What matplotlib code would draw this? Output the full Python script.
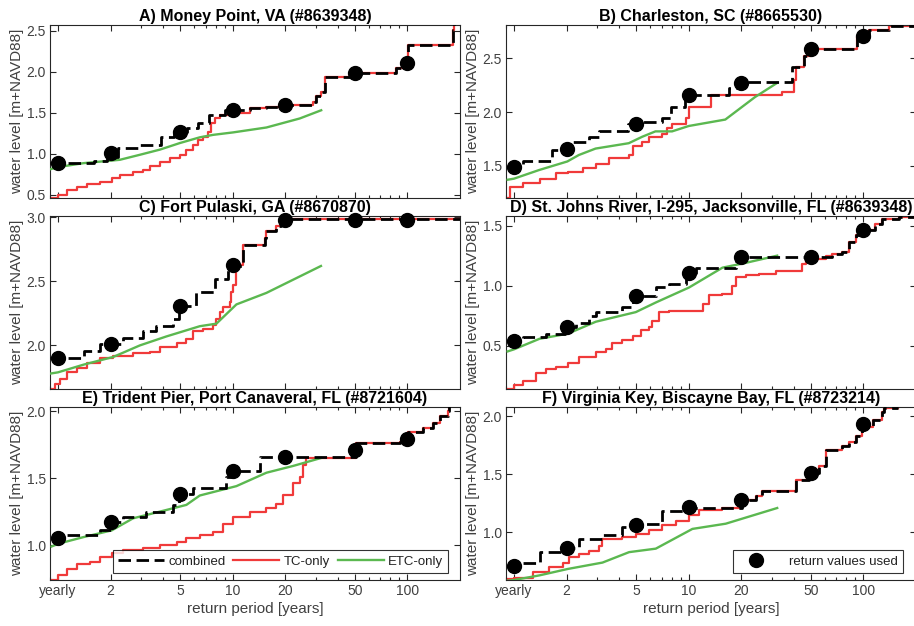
import matplotlib
matplotlib.use("Agg")
import matplotlib.pyplot as plt
from matplotlib.ticker import FixedLocator, NullFormatter, LogLocator

plt.rcParams['font.family'] = ['Liberation Sans', 'DejaVu Sans']

# ---------------- data ----------------
titles = ["A) Money Point, VA (#8639348)",
          "B) Charleston, SC (#8665530)",
          "C) Fort Pulaski, GA (#8670870)",
          "D) St. Johns River, I-295, Jacksonville, FL (#8639348)",
          "E) Trident Pier, Port Canaveral, FL (#8721604)",
          "F) Virginia Key, Biscayne Bay, FL (#8723214)"]

rp_ticks = [1, 2, 5, 10, 20, 50, 100]
rp_labels = ["yearly", "2", "5", "10", "20", "50", "100"]

# A
tc_A_x = [0.90, 1.0, 1.12, 1.28, 1.46, 1.74, 2.03, 2.26, 2.69, 3.07, 3.36, 3.83, 4.36, 4.98, 5.43, 5.93, 6.34, 6.77,
          7.23, 7.55, 7.89, 8.43, 9.62, 10.5, 12.5, 15.6, 20.3, 28.8, 30.1, 32.1, 33.6, 48.8, 86.4, 101, 182, 186, 200]
tc_A_y = [0.46, 0.50, 0.56, 0.60, 0.63, 0.66, 0.70, 0.74, 0.78, 0.80, 0.845, 0.905, 0.945, 0.985, 1.05, 1.11, 1.17, 1.21,
          1.27, 1.37, 1.43, 1.47, 1.49, 1.50, 1.555, 1.567, 1.595, 1.636, 1.70, 1.757, 1.94, 1.98, 2.04, 2.32, 2.51, 2.60, 2.60]
cb_A_x = [0.90, 1.6, 1.9, 2.2, 2.9, 3.9, 4.6, 5.5, 6.3, 7.3, 9.0, 12.5, 15.6, 20.3, 28.8, 30.1, 32.1, 33.6, 48.8, 86.4,
          101, 182, 186, 200]
cb_A_y = [0.89, 0.91, 0.96, 1.07, 1.11, 1.21, 1.26, 1.31, 1.37, 1.47, 1.53, 1.555, 1.567, 1.595, 1.636, 1.70, 1.757,
          1.94, 1.98, 2.04, 2.32, 2.51, 2.60, 2.60]
etc_A_x = [0.90, 1.0, 1.40, 2.26, 2.94, 3.83, 4.98, 6.48, 7.72, 10.05, 15.6, 24.2, 32.1]
etc_A_y = [0.81, 0.837, 0.885, 0.926, 0.987, 1.05, 1.13, 1.20, 1.23, 1.26, 1.32, 1.43, 1.53]
rv_A = [0.885, 1.007, 1.263, 1.534, 1.60, 1.98, 2.11]

# B
tc_B_x = [0.92, 0.95, 1.12, 1.40, 1.74, 2.03, 2.47, 2.94, 3.50, 4.56, 4.77, 5.43, 5.93, 7.07, 7.55, 8.07, 9.62, 10.05,
          13.4, 34.3, 40.0, 40.9, 45.6, 49.8, 92.3, 108, 140, 200]
tc_B_y = [1.20, 1.30, 1.335, 1.38, 1.43, 1.44, 1.475, 1.52, 1.57, 1.60, 1.68, 1.72, 1.77, 1.80, 1.85, 1.89, 1.94, 2.05,
          2.16, 2.19, 2.30, 2.42, 2.52, 2.59, 2.70, 2.76, 2.80, 2.80]
cb_B_x = [0.92, 1.12, 1.66, 2.16, 2.69, 3.07, 4.5, 5.43, 7.07, 7.89, 9.5, 17.0, 19.5, 39.2, 45.6, 49.8, 92.3, 108, 140, 200]
cb_B_y = [1.49, 1.54, 1.646, 1.72, 1.77, 1.82, 1.89, 1.91, 1.94, 2.05, 2.16, 2.22, 2.28, 2.42, 2.52, 2.59, 2.70, 2.76,
          2.80, 2.80]
etc_B_x = [0.92, 1.0, 1.39, 2.02, 2.35, 2.93, 4.54, 5.42, 6.45, 8.03, 10.0, 16.2, 24.0, 32.0]
etc_B_y = [1.37, 1.38, 1.46, 1.54, 1.60, 1.66, 1.71, 1.77, 1.82, 1.82, 1.87, 1.93, 2.14, 2.27]
rv_B = [1.49, 1.66, 1.89, 2.16, 2.27, 2.59, 2.71]

# C
tc_C_x = [0.90, 0.96, 1.03, 1.12, 1.28, 1.46, 1.74, 2.07, 2.69, 3.36, 3.83, 4.77, 5.43, 5.93, 6.77, 7.72, 8.07, 8.43,
          8.81, 9.62, 9.83, 10.05, 10.5, 10.7, 11.5, 15.3, 15.6, 17.8, 19.0, 200]
tc_C_y = [1.66, 1.70, 1.74, 1.79, 1.82, 1.86, 1.90, 1.92, 1.94, 1.95, 1.99, 2.02, 2.05, 2.11, 2.13, 2.16, 2.21, 2.26,
          2.30, 2.34, 2.42, 2.47, 2.60, 2.63, 2.78, 2.84, 2.89, 2.93, 2.985, 2.985]
cb_C_x = [0.90, 1.40, 1.74, 2.36, 3.07, 3.66, 4.56, 4.9, 6.2, 7.9, 9.4, 11.5, 15.3, 15.6, 17.8, 19.0, 200]
cb_C_y = [1.90, 1.96, 2.015, 2.055, 2.11, 2.15, 2.21, 2.31, 2.42, 2.52, 2.62, 2.78, 2.84, 2.89, 2.93, 2.985, 2.985]
etc_C_x = [0.90, 1.0, 1.40, 2.07, 2.94, 4.17, 6.48, 8.07, 10.5, 15.6, 32.0]
etc_C_y = [1.78, 1.79, 1.85, 1.91, 2.0, 2.07, 2.15, 2.17, 2.32, 2.41, 2.62]
rv_C = [1.90, 2.01, 2.31, 2.63, 2.98, 2.98, 2.98]

# D
tc_D_x = [0.92, 1.0, 1.12, 1.34, 1.52, 1.74, 2.03, 2.36, 2.94, 3.36, 3.66, 4.17, 4.77, 5.32, 5.93, 6.2, 6.77, 7.72,
          12.0, 13.1, 15.6, 17.8, 18.6, 21.2, 25.2, 31.5, 44.7, 46.7, 60.7, 66.3, 75.6, 82.7, 90.3, 103, 117, 128,
          160, 195, 200]
tc_D_y = [0.143, 0.17, 0.21, 0.27, 0.31, 0.32, 0.36, 0.41, 0.45, 0.475, 0.52, 0.545, 0.585, 0.63, 0.655, 0.71, 0.78,
          0.79, 0.85, 0.92, 0.93, 1.0, 1.07, 1.085, 1.10, 1.125, 1.18, 1.22, 1.25, 1.265, 1.28, 1.36, 1.42, 1.46, 1.51,
          1.555, 1.57, 1.58, 1.58]
cb_D_x = [0.92, 1.12, 1.52, 1.95, 2.26, 2.69, 2.94, 4.17, 4.8, 6.48, 7.72, 9.6, 11.0, 18.6, 20.0, 66.3, 75.6, 82.7,
          90.3, 103, 117, 128, 160, 195, 200]
cb_D_y = [0.536, 0.57, 0.60, 0.655, 0.69, 0.75, 0.78, 0.82, 0.918, 0.99, 1.01, 1.104, 1.145, 1.195, 1.24, 1.265, 1.28,
          1.36, 1.42, 1.46, 1.51, 1.555, 1.57, 1.58, 1.58]
etc_D_x = [0.92, 1.0, 1.40, 2.03, 2.94, 4.98, 6.48, 10.05, 15.6, 21.2, 32.1]
etc_D_y = [0.453, 0.47, 0.558, 0.60, 0.70, 0.78, 0.86, 0.985, 1.15, 1.19, 1.25]
rv_D = [0.536, 0.655, 0.918, 1.104, 1.24, 1.24, 1.46]

# E
tc_E_x = [0.92, 1.0, 1.12, 1.28, 1.52, 1.74, 2.03, 2.36, 3.07, 3.83, 4.77, 5.43, 6.48, 7.72, 8.81, 10.05, 12.5, 15.6,
          17.8, 19.4, 22.1, 24.2, 25.2, 26.4, 50.6, 90.3, 101, 123, 140, 153, 170, 174, 200]
tc_E_y = [0.74, 0.775, 0.825, 0.86, 0.875, 0.91, 0.94, 0.96, 0.975, 1.0, 1.025, 1.05, 1.075, 1.10, 1.16, 1.21, 1.25,
          1.275, 1.31, 1.375, 1.46, 1.51, 1.60, 1.65, 1.76, 1.77, 1.84, 1.875, 1.91, 1.96, 2.0, 2.05, 2.05]
cb_E_x = [0.92, 1.03, 1.74, 2.0, 2.36, 3.21, 4.56, 4.9, 5.93, 9.2, 10.05, 14.3, 50.6, 90.3, 101, 123, 140, 153, 170,
          174, 200]
cb_E_y = [1.05, 1.075, 1.11, 1.17, 1.21, 1.25, 1.30, 1.38, 1.425, 1.51, 1.55, 1.655, 1.76, 1.77, 1.84, 1.875, 1.91,
          1.96, 2.0, 2.05, 2.05]
etc_E_x = [0.92, 1.0, 1.40, 2.03, 2.69, 3.83, 5.43, 6.48, 10.5, 15.6, 22.1, 32.1]
etc_E_y = [0.99, 1.01, 1.06, 1.11, 1.20, 1.25, 1.30, 1.37, 1.44, 1.54, 1.59, 1.65]
rv_E = [1.05, 1.17, 1.38, 1.55, 1.655, 1.71, 1.79]

# F
tc_F_x = [0.92, 1.0, 1.28, 1.59, 1.90, 2.07, 2.36, 2.69, 3.07, 3.21, 4.17, 4.98, 5.93, 7.07, 8.43, 10.05, 11.5, 15.6,
          20.3, 24.2, 26.4, 40.9, 48.8, 55.6, 60.7, 75.6, 82.7, 90.3, 98.6, 113, 128, 131, 157]
tc_F_y = [0.60, 0.61, 0.656, 0.70, 0.74, 0.786, 0.815, 0.844, 0.887, 0.945, 0.96, 0.99, 1.02, 1.06, 1.10, 1.15, 1.19,
          1.21, 1.28, 1.31, 1.355, 1.45, 1.51, 1.57, 1.71, 1.74, 1.78, 1.83, 1.91, 1.97, 2.04, 2.07, 2.07]
cb_F_x = [0.92, 1.07, 1.40, 1.95, 2.36, 3.21, 4.17, 5.43, 7.07, 9.6, 20.3, 24.2, 26.4, 40.9, 48.8, 55.6, 60.7, 75.6,
          82.7, 90.3, 98.6, 113, 128, 131, 157]
cb_F_y = [0.71, 0.74, 0.83, 0.867, 0.945, 0.975, 1.05, 1.075, 1.18, 1.21, 1.28, 1.31, 1.355, 1.45, 1.51, 1.57, 1.71,
          1.74, 1.78, 1.83, 1.91, 1.97, 2.04, 2.07, 2.07]
etc_F_x = [0.92, 1.0, 1.40, 2.03, 3.21, 4.56, 6.48, 10.5, 16.3, 32.1]
etc_F_y = [0.584, 0.59, 0.63, 0.685, 0.74, 0.83, 0.86, 1.03, 1.075, 1.21]
rv_F = [0.71, 0.867, 1.06, 1.22, 1.28, 1.51, 1.93]

ylims = [(0.46, 2.57), (1.20, 2.81), (1.66, 3.01), (0.14, 1.58), (0.74, 2.03), (0.59, 2.08)]
yticks = [[0.5, 1.0, 1.5, 2.0, 2.5], [1.5, 2.0, 2.5], [2.0, 2.5, 3.0],
          [0.5, 1.0, 1.5], [1.0, 1.5, 2.0], [1.0, 1.5, 2.0]]

panels = [
    (tc_A_x, tc_A_y, cb_A_x, cb_A_y, etc_A_x, etc_A_y, rv_A),
    (tc_B_x, tc_B_y, cb_B_x, cb_B_y, etc_B_x, etc_B_y, rv_B),
    (tc_C_x, tc_C_y, cb_C_x, cb_C_y, etc_C_x, etc_C_y, rv_C),
    (tc_D_x, tc_D_y, cb_D_x, cb_D_y, etc_D_x, etc_D_y, rv_D),
    (tc_E_x, tc_E_y, cb_E_x, cb_E_y, etc_E_x, etc_E_y, rv_E),
    (tc_F_x, tc_F_y, cb_F_x, cb_F_y, etc_F_x, etc_F_y, rv_F),
]

# ---------------- figure ----------------
W, H = 914, 626
fig = plt.figure(figsize=(W / 100, H / 100), dpi=100)

col_x = [50, 506]
row_top = [25, 216, 407]
ax_w, ax_h = 410, 173

RED = '#F03A3A'
GREEN = '#5BB850'
AXC = '#262626'
TXT = '#404040'

axes = []
for i, (tcx, tcy, cbx, cby, ex, ey, rv) in enumerate(panels):
    r, c = divmod(i, 2)
    left = col_x[c] / W
    bottom = 1 - (row_top[r] + ax_h) / H
    ax = fig.add_axes([left, bottom, ax_w / W, ax_h / H])
    axes.append(ax)
    ax.set_xscale('log')

    l_tc, = ax.plot(tcx, tcy, color=RED, lw=1.6, drawstyle='steps-post', zorder=2)
    l_etc, = ax.plot(ex, ey, color=GREEN, lw=1.7, zorder=3)
    l_cb, = ax.plot(cbx, cby, color='black', lw=2.0, dashes=(4.5, 2.0), drawstyle='steps-post', zorder=4)
    l_rv, = ax.plot(rp_ticks, rv, 'o', color='black', ms=10, zorder=5, clip_on=False)

    ax.set_xlim(0.9, 200)
    ax.set_ylim(*ylims[i])
    ax.set_yticks(yticks[i])
    ax.set_yticklabels([f"{v:.1f}" for v in yticks[i]])
    ax.xaxis.set_major_locator(FixedLocator(rp_ticks))
    ax.xaxis.set_minor_locator(LogLocator(base=10, subs=(3, 4, 6, 7, 8, 9), numticks=20))
    ax.xaxis.set_minor_formatter(NullFormatter())
    if r == 2:
        ax.set_xticklabels(rp_labels)
        ax.set_xlabel("return period [years]", fontsize=11, color=TXT, labelpad=3)
    else:
        ax.set_xticklabels([""] * len(rp_ticks))

    ax.tick_params(which='both', direction='in', top=True, right=True, colors=AXC,
                   labelcolor=TXT, labelsize=10, width=0.8)
    ax.tick_params(which='major', length=4, pad=3)
    ax.tick_params(which='minor', length=2)
    for s in ax.spines.values():
        s.set_color(AXC)
        s.set_linewidth(0.8)
    ax.set_ylabel("water level [m+NAVD88]", fontsize=11, color=TXT, labelpad=2)
    ax.set_title(titles[i], fontsize=11.5, fontweight='bold', pad=3)

    if i == 4:
        leg = ax.legend([l_cb, l_tc, l_etc], ["combined", "TC-only", "ETC-only"], ncol=3,
                        loc='lower right', bbox_to_anchor=(0.971, 0.04), borderaxespad=0,
                        fontsize=9.5, frameon=True, fancybox=False, handlelength=3.5,
                        columnspacing=0.6, handletextpad=0.3, borderpad=0.4)
        leg.get_frame().set_edgecolor('black')
        leg.get_frame().set_linewidth(0.8)
        for t in leg.get_texts():
            t.set_color('#222222')
    if i == 5:
        leg = ax.legend([l_rv], ["return values used"], loc='lower right',
                        bbox_to_anchor=(0.968, 0.04), borderaxespad=0,
                        fontsize=9.5, frameon=True, fancybox=False, handlelength=2.6,
                        handletextpad=1.2, borderpad=0.4)
        leg.get_frame().set_edgecolor('black')
        leg.get_frame().set_linewidth(0.8)
        for t in leg.get_texts():
            t.set_color('#222222')

fig.savefig("out.png", dpi=100)
